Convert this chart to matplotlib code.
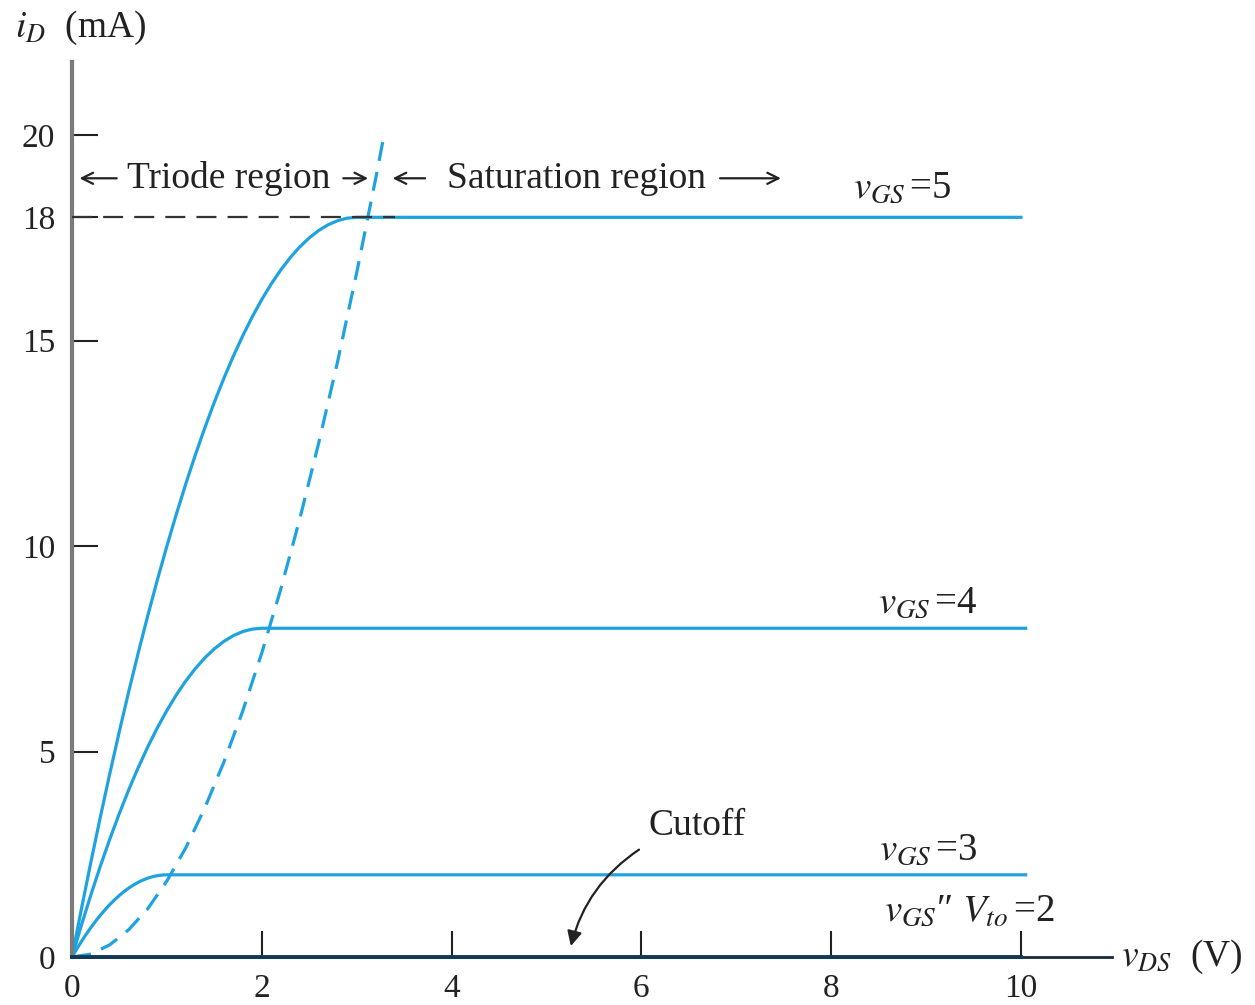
import matplotlib.pyplot as plt

plt.rcParams['font.family'] = ['Liberation Serif', 'DejaVu Serif']
plt.rcParams['mathtext.fontset'] = 'stix'

# characteristic curves (v_DS in V, i_D in mA)
vds_5 = [0, 0.1, 0.2, 0.3, 0.4, 0.5, 0.6, 0.7, 0.8, 0.9, 1.0, 1.1, 1.2, 1.3, 1.4, 1.5,
         1.6, 1.7, 1.8, 1.9, 2.0, 2.1, 2.2, 2.3, 2.4, 2.5, 2.6, 2.7, 2.8, 2.9, 3.0, 10.0]
id_5 = [0, 1.18, 2.32, 3.42, 4.48, 5.5, 6.48, 7.42, 8.32, 9.18, 10.0, 10.78, 11.52, 12.22,
        12.88, 13.5, 14.08, 14.62, 15.12, 15.58, 16.0, 16.38, 16.72, 17.02, 17.28, 17.5,
        17.68, 17.82, 17.92, 17.98, 18.0, 18.0]

vds_4 = [0, 0.1, 0.2, 0.3, 0.4, 0.5, 0.6, 0.7, 0.8, 0.9, 1.0, 1.1, 1.2, 1.3, 1.4, 1.5,
         1.6, 1.7, 1.8, 1.9, 2.0, 10.05]
id_4 = [0, 0.78, 1.52, 2.22, 2.88, 3.5, 4.08, 4.62, 5.12, 5.58, 6.0, 6.38, 6.72, 7.02,
        7.28, 7.5, 7.68, 7.82, 7.92, 7.98, 8.0, 8.0]

vds_3 = [0, 0.05, 0.1, 0.15, 0.2, 0.25, 0.3, 0.35, 0.4, 0.45, 0.5, 0.55, 0.6, 0.65, 0.7,
         0.75, 0.8, 0.85, 0.9, 0.95, 1.0, 10.05]
id_3 = [0, 0.195, 0.38, 0.555, 0.72, 0.875, 1.02, 1.155, 1.28, 1.395, 1.5, 1.595, 1.68,
        1.755, 1.82, 1.875, 1.92, 1.955, 1.98, 1.995, 2.0, 2.0]

vds_cut = [0, 10.0]
id_cut = [0, 0]

# triode / saturation boundary (dashed)
vds_b = [0, 0.2, 0.4, 0.6, 0.8, 1.0, 1.2, 1.4, 1.6, 1.8, 2.0, 2.2, 2.4, 2.6, 2.8, 3.0,
         3.2, 3.28]
id_b = [0, 0.07, 0.3, 0.67, 1.18, 1.85, 2.66, 3.63, 4.74, 5.99, 7.4, 8.95, 10.66, 12.51,
        14.5, 16.65, 18.94, 19.9]

x_ticks = [0, 2, 4, 6, 8, 10]
y_ticks = [0, 5, 10, 15, 18, 20]

blue = '#1fa3e0'
dark = '#222222'

fig = plt.figure(figsize=(12.55, 10.05), dpi=100)
ax = fig.add_axes([72/1255, 48/1005, 1040/1255, 895/1005])
ax.set_xlim(0, 10.96)
ax.set_ylim(0, 21.78)

ax.plot([0, 3.4], [18, 18], color='#333333', lw=1.6, dashes=(9, 5), zorder=4)
ax.plot(vds_5, id_5, color=blue, lw=2.3, clip_on=False)
ax.plot(vds_4, id_4, color=blue, lw=2.3, clip_on=False)
ax.plot(vds_3, id_3, color=blue, lw=2.3, clip_on=False)
ax.plot(vds_b, id_b, color=blue, lw=2.3, dashes=(6, 3.5), clip_on=False)
ax.plot(vds_cut, id_cut, color='#12395a', lw=2.8, clip_on=False, zorder=5)

for s in ['top', 'right']:
    ax.spines[s].set_visible(False)
ax.spines['left'].set_color('#7a7a7a')
ax.spines['left'].set_linewidth(3)
ax.spines['bottom'].set_color('#1a2a3a')
ax.spines['bottom'].set_linewidth(2)

ax.set_xticks(x_ticks)
ax.set_yticks(y_ticks)
ax.tick_params(direction='in', length=19, width=1.5, color=dark, labelsize=24,
               labelcolor=dark, pad=12)
ax.xaxis.get_major_ticks()[0].tick1line.set_visible(False)
ax.yaxis.get_major_ticks()[0].tick1line.set_visible(False)

# axis titles
ax.text(-0.6, 22.6, r'$i_D$  (mA)', fontsize=27, color=dark, ha='left', va='center')
ax.text(11.05, 0, r'$v_{DS}$  (V)', fontsize=27, color=dark, ha='left', va='center')

# curve labels
ax.text(8.75, 18.7, r'$v_{GS}\,$=5', fontsize=28, color=dark, ha='center', va='center')
ax.text(9.02, 8.6, r'$v_{GS}\,$=4', fontsize=28, color=dark, ha='center', va='center')
ax.text(9.02, 2.6, r'$v_{GS}\,$=3', fontsize=28, color=dark, ha='center', va='center')
ax.text(9.46, 1.1, r'$v_{GS}$″ $V_{to}\,$=2', fontsize=28, color=dark,
        ha='center', va='center')

# region annotations
arr = dict(arrowstyle='->', color=dark, lw=1.6, mutation_scale=20)
ax.text(1.65, 18.95, 'Triode region', fontsize=27, color=dark, ha='center', va='center')
ax.annotate('', xy=(0.05, 18.95), xytext=(0.5, 18.95), arrowprops=arr)
ax.annotate('', xy=(3.15, 18.95), xytext=(2.83, 18.95), arrowprops=arr)
ax.text(5.32, 18.95, 'Saturation region', fontsize=27, color=dark, ha='center', va='center')
ax.annotate('', xy=(3.35, 18.95), xytext=(3.75, 18.95), arrowprops=arr)
ax.annotate('', xy=(7.5, 18.95), xytext=(6.8, 18.95), arrowprops=arr)

ax.text(6.59, 3.2, 'Cutoff', fontsize=27, color=dark, ha='center', va='center')
ax.annotate('', xy=(5.25, 0.2), xytext=(6.0, 2.65),
            arrowprops=dict(arrowstyle='-|>', color=dark, lw=1.6,
                            connectionstyle='arc3,rad=0.2', mutation_scale=22))

fig.savefig('out.png', dpi=100)
